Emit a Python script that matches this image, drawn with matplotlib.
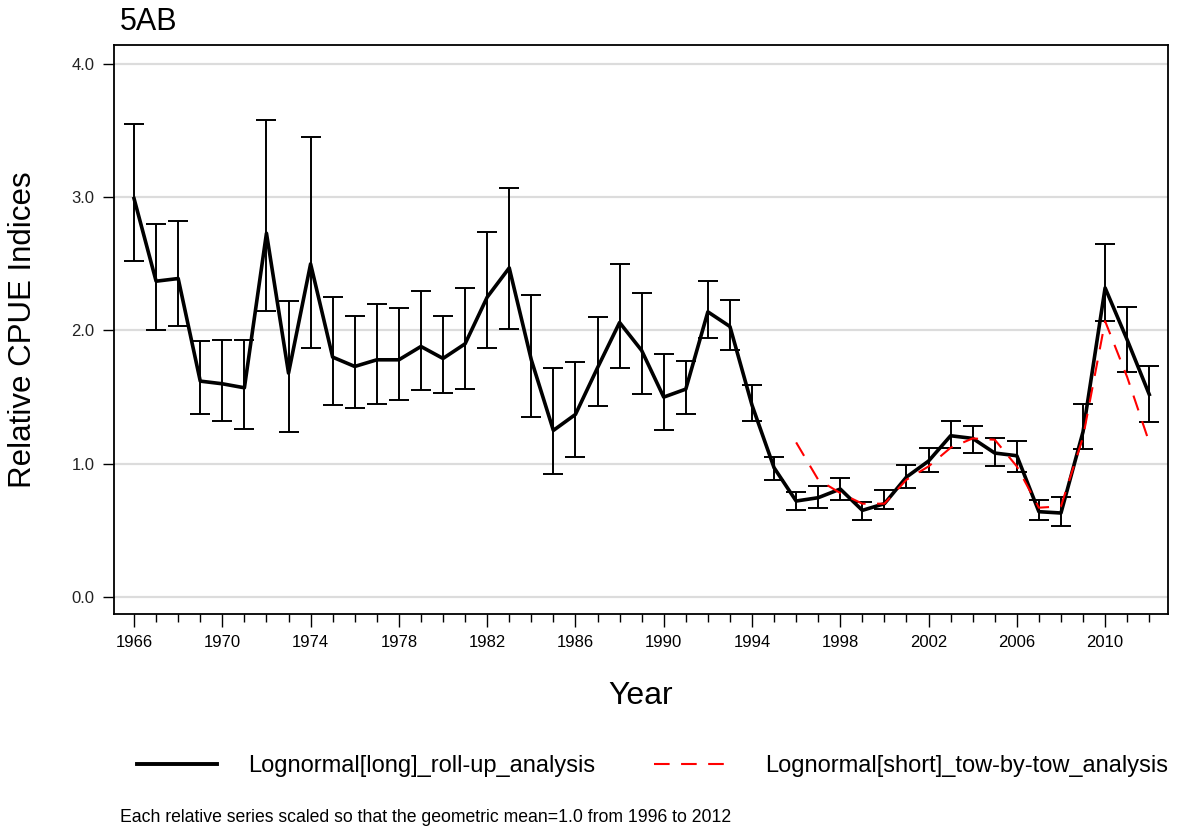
import matplotlib
matplotlib.use("Agg")
import matplotlib.pyplot as plt
import numpy as np
from matplotlib.lines import Line2D

plt.rcParams['font.family'] = ['Liberation Sans', 'DejaVu Sans']

# --- données ---
years_long = np.arange(1966, 2013)
cpue_long = [2.99, 2.37, 2.39, 1.62, 1.60, 1.57, 2.73, 1.68, 2.50, 1.80,
             1.73, 1.78, 1.78, 1.88, 1.79, 1.90, 2.25, 2.47, 1.78, 1.25,
             1.37, 1.72, 2.06, 1.85, 1.50, 1.56, 2.14, 2.03, 1.44, 0.97,
             0.72, 0.745, 0.81, 0.65, 0.70, 0.90, 1.02, 1.21, 1.19, 1.08,
             1.06, 0.64, 0.63, 1.24, 2.32, 1.93, 1.52]
upper_long = [3.55, 2.80, 2.82, 1.92, 1.93, 1.93, 3.58, 2.22, 3.45, 2.25,
              2.11, 2.20, 2.17, 2.30, 2.11, 2.32, 2.74, 3.07, 2.27, 1.72,
              1.76, 2.10, 2.50, 2.28, 1.82, 1.77, 2.37, 2.23, 1.59, 1.05,
              0.79, 0.83, 0.89, 0.715, 0.80, 0.99, 1.12, 1.32, 1.28, 1.19,
              1.17, 0.73, 0.75, 1.45, 2.65, 2.18, 1.73]
lower_long = [2.52, 2.00, 2.03, 1.37, 1.32, 1.26, 2.15, 1.24, 1.87, 1.44,
              1.42, 1.45, 1.48, 1.55, 1.53, 1.56, 1.87, 2.01, 1.35, 0.92,
              1.05, 1.43, 1.72, 1.52, 1.25, 1.37, 1.94, 1.85, 1.32, 0.88,
              0.65, 0.67, 0.73, 0.58, 0.66, 0.82, 0.94, 1.12, 1.08, 0.98,
              0.94, 0.58, 0.535, 1.11, 2.07, 1.69, 1.31]

years_short = np.arange(1996, 2013)
cpue_short = [1.16, 0.88, 0.78, 0.70, 0.70, 0.88, 0.98, 1.12, 1.19, 1.18,
              0.98, 0.67, 0.68, 1.20, 2.07, 1.65, 1.16]

label_long = "Lognormal[long]_roll-up_analysis"
label_short = "Lognormal[short]_tow-by-tow_analysis"
x_major = np.arange(1966, 2013, 4)
y_major = [0.0, 1.0, 2.0, 3.0, 4.0]

fig = plt.figure(figsize=(11.81, 8.33), dpi=100)
ax = fig.add_axes([0.0965, 0.2629, 0.8925, 0.6831])

cpue = np.array(cpue_long)
yerr = [cpue - np.array(lower_long), np.array(upper_long) - cpue]

# grille horizontale
for yv in y_major:
    ax.axhline(yv, color='#dcdcdc', lw=1.6, zorder=0)

ax.errorbar(years_long, cpue, yerr=yerr, fmt='none', ecolor='black',
            elinewidth=1.4, capsize=7, capthick=1.4, zorder=2)
ax.plot(years_long, cpue, color='black', lw=2.6, zorder=3)
ax.plot(years_short, cpue_short, color='red', lw=1.5, dashes=(7.5, 5.5), zorder=4)

ax.set_xlim(1965.09, 2012.85)
ax.set_ylim(-0.128, 4.143)
ax.set_xticks(x_major)
ax.set_xticks(years_long, minor=True)
ax.set_yticks(y_major)
ax.set_yticklabels([f"{v:.1f}" for v in y_major])
ax.tick_params(axis='x', which='major', length=9, width=1, labelsize=12, pad=6)
ax.tick_params(axis='x', which='minor', length=6, width=1)
ax.tick_params(axis='y', length=8, width=1, labelsize=12, pad=6,
               colors='black', labelcolor='#222222')
for s in ax.spines.values():
    s.set_linewidth(1.3)

ax.set_ylabel("Relative CPUE Indices", fontsize=22.5)
ax.yaxis.set_label_coords(-0.072, 0.5)
ax.set_xlabel("Year", fontsize=23)
ax.xaxis.set_label_coords(0.5, -0.118)

fig.text(0.1016, 0.9736, "5AB", fontsize=22, va='center', ha='left')

handles = [Line2D([], [], color='black', lw=2.8),
           Line2D([], [], color='red', lw=1.5, dashes=(7.5, 5.5))]
fig.legend(handles, [label_long, label_short], loc='center left',
           bbox_to_anchor=(0.116, 1 - 766 / 833), ncol=2, frameon=False,
           fontsize=17, handlelength=3.4, handletextpad=1.3, columnspacing=2.5,
           borderpad=0, borderaxespad=0)

fig.text(0.1016, 1 - 818 / 833,
         "Each relative series scaled so that the geometric mean=1.0 from 1996 to 2012",
         fontsize=12.7, va='center', ha='left')

fig.savefig("out.png", dpi=100)
